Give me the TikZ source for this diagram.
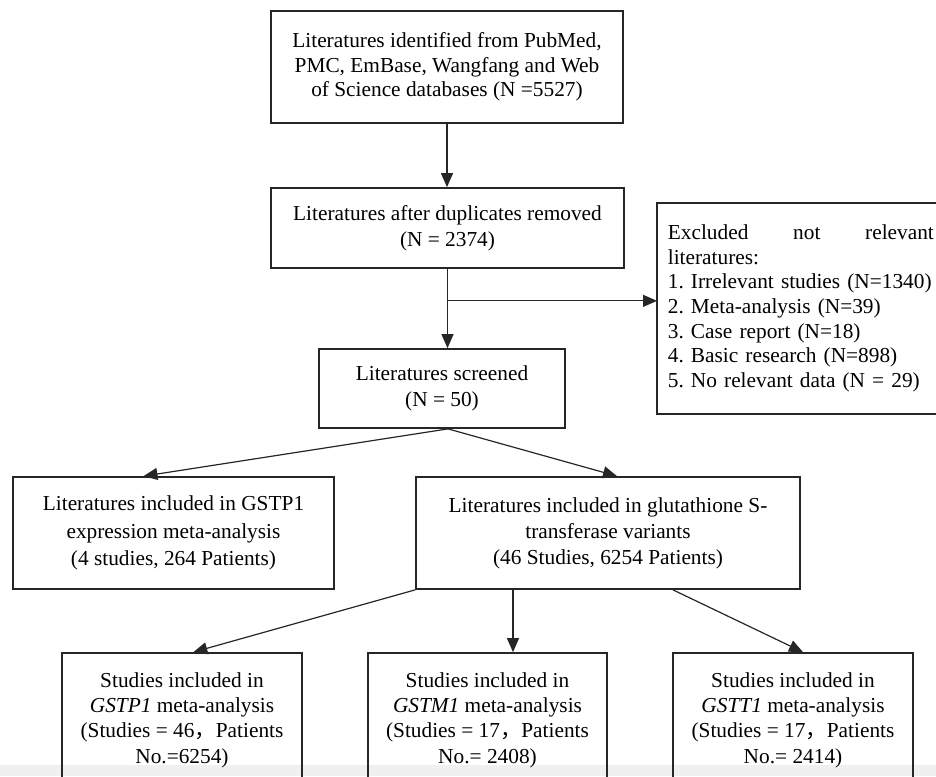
\documentclass[tikz,border=0pt]{standalone}
\usepackage{fontspec}
\setmainfont{Liberation Serif}
\newfontfamily\cjkfont{Noto Sans CJK SC}
\usetikzlibrary{arrows.meta}
\frenchspacing

\begin{document}
\begin{tikzpicture}[x=0.75pt,y=-0.75pt,
  box/.style={draw=black!85, line width=1.3pt, align=center, inner sep=0pt, font=\fontsize{16}{19.5}\selectfont},
  arr/.style={draw=black!85, line width=0.9pt, -{Triangle[length=10.5pt,width=9pt]}}]

% Frame
\useasboundingbox (0,0) rectangle (936,776);
\clip (0,0) rectangle (936,776);
\fill[black!6] (0,765) rectangle (936,776);

% Search and screening
\node[box, minimum width=264pt, minimum height=84pt, font=\fontsize{16}{18.4}\selectfont] (ident) at (447,67) {Literatures identified from PubMed,\\PMC, EmBase, Wangfang and Web\\of Science databases (N =5527)};
\node[box, minimum width=264.75pt, minimum height=60pt] (dup) at (447.5,228) {Literatures after duplicates removed\\(N = 2374)};
\node[box, minimum width=184.5pt, minimum height=59.25pt] (scr) at (442,388.5) {Literatures screened\\(N = 50)};

% Excluded (box runs past the right edge)
\node[box, draw=none, anchor=west, align=left, text width=199.5pt, inner xsep=7.5pt, minimum height=156.75pt, font=\fontsize{16}{18.5}\selectfont] (excl) at (657,308.5) {Excluded\hfill not\hfill relevant\\literatures:\\1. Irrelevant studies (N=1340)\\2. Meta-analysis (N=39)\\3. Case report (N=18)\\4. Basic research (N=898)\\5. No relevant data (N = 29)};
\draw[black!85, line width=1.3pt] (excl.north west) rectangle ([xshift=20pt]excl.south east);

% Included
\node[box, minimum width=240.75pt, minimum height=84pt, font=\fontsize{16}{20.5}\selectfont] (expr) at (173.5,533) {Literatures included in GSTP1\\expression meta-analysis\\(4 studies, 264 Patients)};
\node[box, minimum width=288pt, minimum height=84pt] (glut) at (608,533) {Literatures included in glutathione S-\\transferase variants\\(46 Studies, 6254 Patients)};

% Meta-analyses
\node[box, minimum width=180pt, minimum height=100.5pt, font=\fontsize{16}{19}\selectfont] (gstp) at (182,720) {Studies included in\\\textit{GSTP1} meta-analysis\\(Studies = 46{\cjkfont ，}Patients\\No.=6254)};
\node[box, minimum width=179.25pt, minimum height=100.5pt, font=\fontsize{16}{19}\selectfont] (gstm) at (487.5,720) {Studies included in\\\textit{GSTM1} meta-analysis\\(Studies = 17{\cjkfont ，}Patients\\No.= 2408)};
\node[box, minimum width=180pt, minimum height=100.5pt, font=\fontsize{16}{19}\selectfont] (gstt) at (793,720) {Studies included in\\\textit{GSTT1} meta-analysis\\(Studies = 17{\cjkfont ，}Patients\\No.= 2414)};

% Arrows
\draw[arr] (ident.south) -- (ident.south |- dup.north);
\draw[arr] (dup.south) -- (dup.south |- scr.north);
\coordinate (br) at ([yshift=-24pt]dup.south);
\draw[arr] (br) -- (br -| excl.west);
\draw[arr] ([xshift=4.5pt]scr.south) -- ([xshift=-22.5pt]expr.north);
\draw[arr] ([xshift=4.5pt]scr.south) -- ([xshift=6.75pt]glut.north);
\draw[arr] (glut.south west) -- ([xshift=8.5pt]gstp.north);
\draw[arr] ([xshift=-71.25pt]glut.south) -- ([xshift=-71.25pt]glut.south |- gstm.north);
\draw[arr] ([xshift=48.75pt]glut.south) -- ([xshift=7.5pt]gstt.north);

\end{tikzpicture}
\end{document}
